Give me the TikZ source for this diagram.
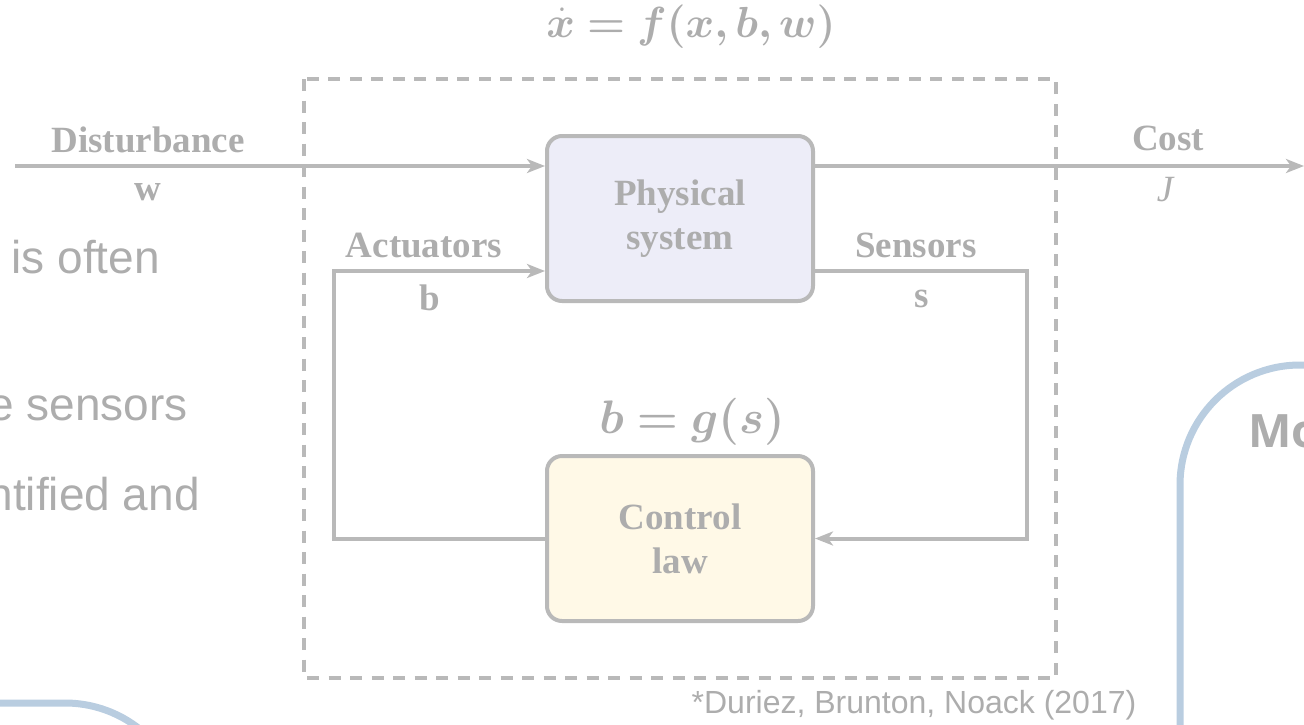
\RequirePackage{fix-cm}
\documentclass[tikz,border=0pt]{standalone}
\usepackage{amsmath,bm}
\usepackage{fontspec}
\setmainfont{Liberation Serif}
\newfontfamily\arialf{Liberation Sans}
\newfontfamily\osans{Open Sans}
\usetikzlibrary{arrows.meta,calc}
\definecolor{lineg}{HTML}{B9B9B9}
\definecolor{txtg}{HTML}{ADADAD}
\definecolor{physfill}{HTML}{EDEDF8}
\definecolor{ctrlfill}{HTML}{FFF9E7}
\definecolor{framebl}{HTML}{B9CDE0}
\tikzset{
  blk/.style={draw=lineg, line width=4pt, rounded corners=15pt, minimum width=266pt, minimum height=165pt, inner sep=0pt, align=center, text=txtg, font=\bfseries\fontsize{37}{44}\selectfont},
  arr/.style={draw=lineg, line width=4pt, -{Stealth[length=18pt,width=14pt,inset=5pt]}},
  conn/.style={draw=lineg, line width=4pt},
  lbl/.style={anchor=base, text=txtg, inner sep=0pt, font=\bfseries\fontsize{37}{44}\selectfont},
  side/.style={text=txtg, inner sep=0pt, font=\arialf\fontsize{46}{54}\selectfont},
  frame/.style={draw=framebl, line width=7pt, rounded corners=120pt},
  eqn/.style={anchor=base, text=txtg, inner sep=0pt}
}
\begin{document}
\begin{tikzpicture}[x=1pt,y=-1pt]
\useasboundingbox (0,0) rectangle (1304,724);
\clip (0,0) rectangle (1304,724);
% side frames
\draw[frame] (1180,365) rectangle (1600,1000);
\draw[frame] (-300,703) rectangle (185,1000);
% left text
\node[side, anchor=base east] (t1) at (160,273) {is often};
\node[side, anchor=base east] (t2) at (188,420) {e sensors};
\node[side, anchor=base east] (t3) at (200,510) {ntified and};
\node[anchor=base west, inner sep=0pt, text=txtg, font=\osans\bfseries\fontsize{46}{54}\selectfont] (mo) at (1248,447) {Mo};
% dashed boundary
\draw[draw=lineg, line width=4pt, dash pattern=on 12pt off 9.5pt] (304,79) rectangle (1056,678);
% blocks
\node[blk, fill=physfill] (phys) at (680,218.5) {Physical\\system};
\node[blk, fill=ctrlfill] (ctrl) at (680,538.5) {Control\\law};
% equations
\node[eqn, font=\fontsize{43.5}{52}\selectfont] (feq) at (691,37) {$\bm{\dot{x} = f(x,b,w)}$};
\node[eqn, font=\fontsize{47}{56}\selectfont] (geq) at (692,433) {$\bm{b = g(s)}$};
% coordinates
\coordinate (dstart) at (15,166);
\coordinate (cend) at (1304,166);
\coordinate (actc) at (334,271);
\coordinate (senc) at (1027,271);
% connectors
\draw[arr] (dstart) -- (dstart -| phys.west);
\draw[arr] (phys.east |- dstart) -- (cend);
\draw[arr] (ctrl.west) -| (actc) -- (actc -| phys.west);
\draw[arr] (phys.east |- senc) -- (senc) |- (ctrl.east);
% labels
\node[lbl] (ldist) at (148,152) {Disturbance};
\node[lbl] (lw) at (148,200) {w};
\node[lbl] (lcost) at (1168,150) {Cost};
\node[lbl, font=\itshape\fontsize{37}{44}\selectfont] (lj) at (1165,201) {J};
\node[lbl] (lact) at (424,257) {Actuators};
\node[lbl] (lb) at (430,310) {b};
\node[lbl] (lsen) at (916,257) {Sensors};
\node[lbl] (ls) at (922,307) {s};
% citation
\node[anchor=base, inner sep=0pt, text=txtg, font=\arialf\fontsize{32}{38}\selectfont] (cite) at (914,713) {*Duriez, Brunton, Noack (2017)};
\end{tikzpicture}
\end{document}
